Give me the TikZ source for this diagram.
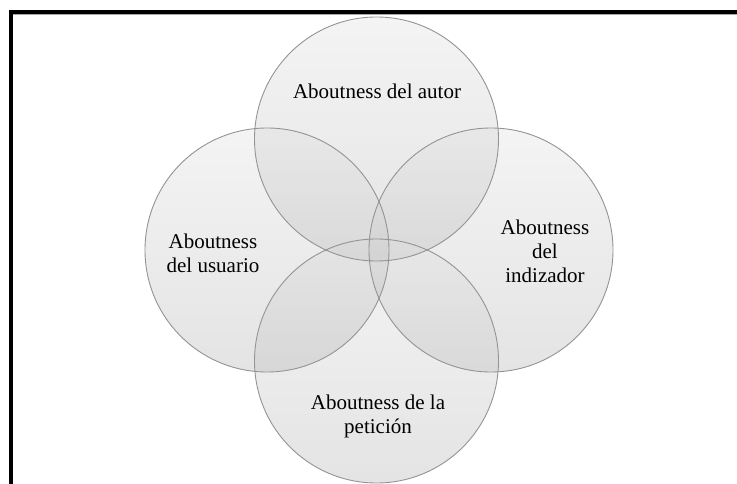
\documentclass[tikz,border=0pt]{standalone}
\usepackage{fontspec}
\setmainfont{Liberation Serif}
\begin{document}
\begin{tikzpicture}[x=1pt,y=-1pt,
  venn/.style={top color=black!12, bottom color=black!30, fill opacity=0.35},
  vennline/.style={draw=black!42, line width=0.9pt},
  lbl/.style={align=center, font=\fontsize{21}{24}\selectfont, text=black, inner sep=0pt}]
\useasboundingbox (0,0) rectangle (737,484);
\fill[white] (0,0) rectangle (737,484);
% frame
\fill[black!35] (9,14) rectangle (737,15.2);
\fill[black] (9,10) rectangle (737,14);
\fill[black] (9,10) rectangle (13,484);
% circles
\coordinate (ct) at (376.5,139);
\coordinate (cr) at (491,250);
\coordinate (cb) at (376.5,361);
\coordinate (cl) at (267,250);
\shade[venn] (ct) circle (122);
\shade[venn] (cr) circle (122);
\shade[venn] (cb) circle (122);
\shade[venn] (cl) circle (122);
\draw[vennline] (ct) circle (122);
\draw[vennline] (cr) circle (122);
\draw[vennline] (cb) circle (122);
\draw[vennline] (cl) circle (122);
% labels
\node[lbl] (tt) at (377,91) {Aboutness del autor};
\node[lbl] (tl) at (213,253) {Aboutness\\del usuario};
\node[lbl] (tr) at (545,251) {Aboutness\\del\\indizador};
\node[lbl] (tb) at (378,416) {Aboutness de la\\petición};
\end{tikzpicture}
\end{document}
